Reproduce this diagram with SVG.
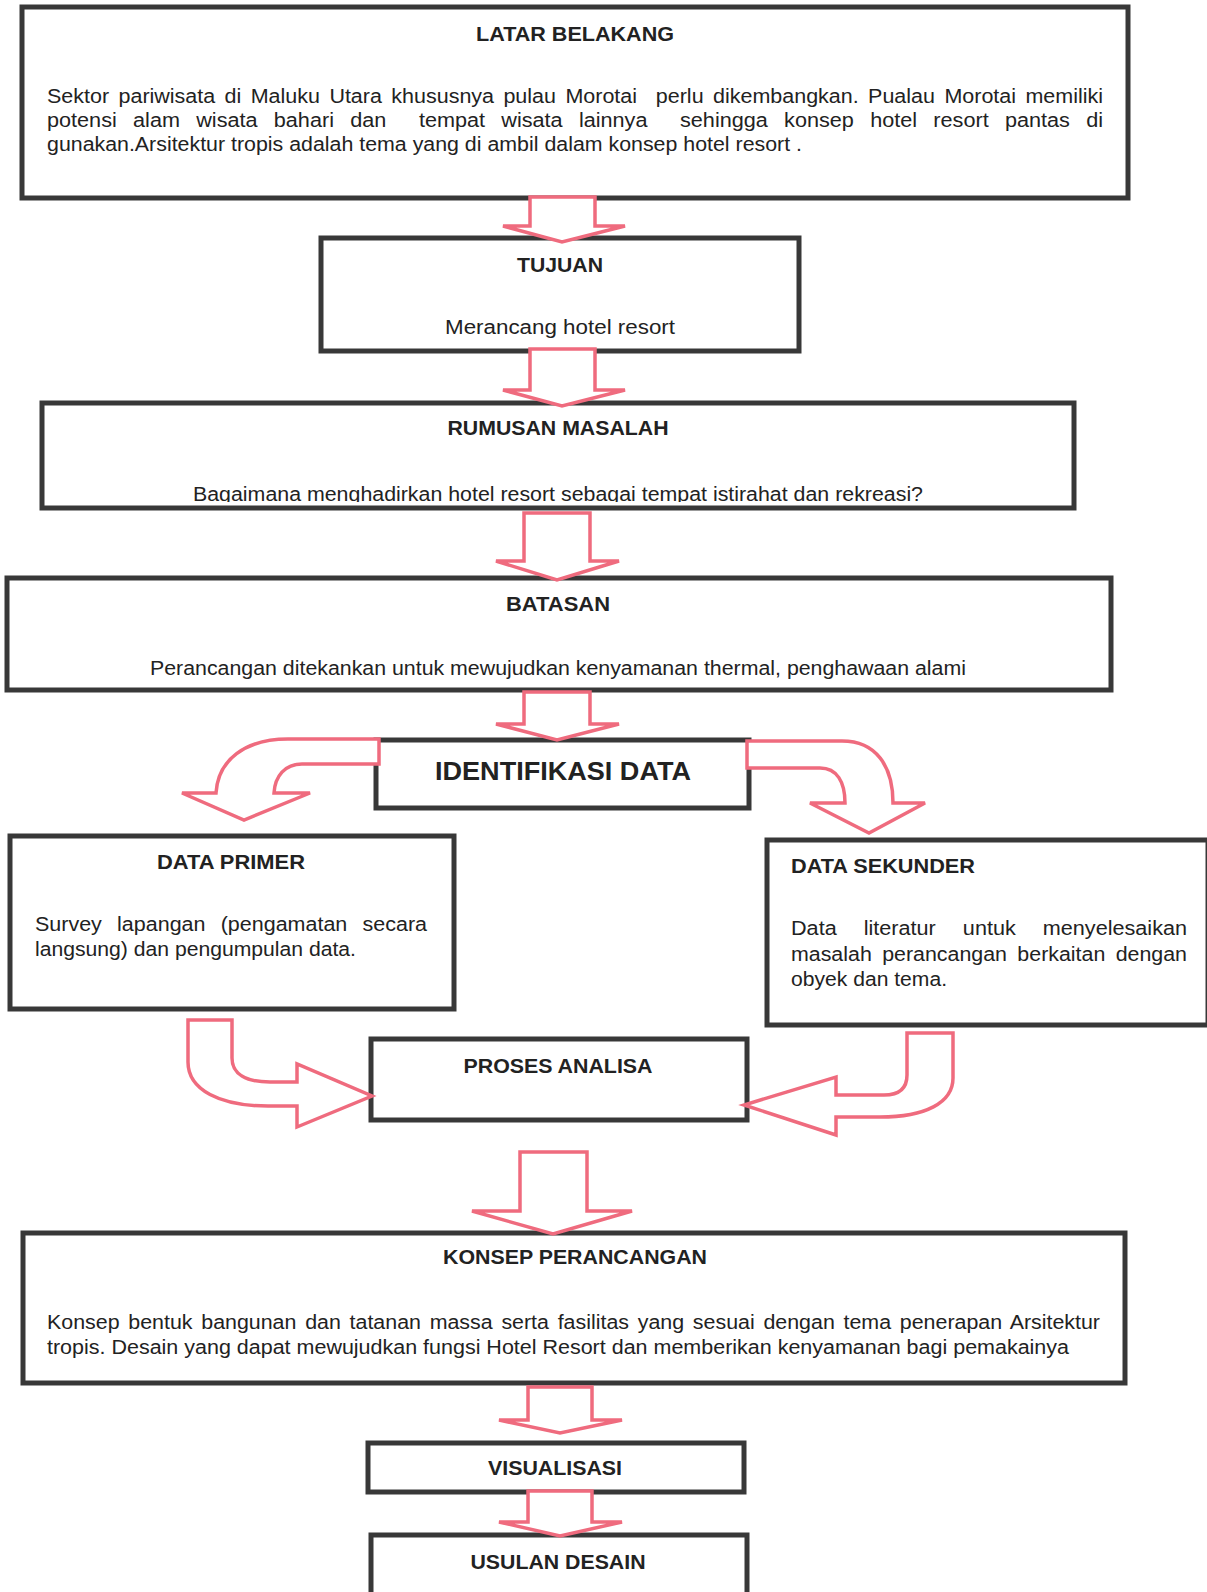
<svg xmlns="http://www.w3.org/2000/svg" width="1207" height="1592" viewBox="0 0 1207 1592">
<style>
.box{fill:#fff;stroke:#383838;stroke-width:5}
.arr{fill:#fff;stroke:#ef6b7e;stroke-width:3.5;stroke-linejoin:miter}
.t{font-family:"Liberation Sans",Arial,sans-serif;font-size:20px;fill:#222}
.b{font-weight:bold}
</style>
<defs>
<clipPath id="clipRum"><rect x="42" y="403" width="1032" height="99"/></clipPath>
</defs>
<rect width="1207" height="1592" fill="#fff"/>

<g id="latar-belakang">
<rect class="box" x="22" y="7" width="1106" height="191"/>
<text class="t b" x="575" y="41" text-anchor="middle" textLength="198" lengthAdjust="spacingAndGlyphs">LATAR BELAKANG</text>
<text class="t" x="47" y="103" xml:space="preserve" style="word-spacing:3.2px" textLength="1056" lengthAdjust="spacingAndGlyphs">Sektor pariwisata di Maluku Utara khususnya pulau Morotai  perlu dikembangkan. Pualau Morotai memiliki</text>
<text class="t" x="47" y="127" xml:space="preserve" style="word-spacing:9.5px" textLength="1056" lengthAdjust="spacingAndGlyphs">potensi alam wisata bahari dan  tempat wisata lainnya  sehingga konsep hotel resort pantas di</text>
<text class="t" x="47" y="151" textLength="755" lengthAdjust="spacingAndGlyphs">gunakan.Arsitektur tropis adalah tema yang di ambil dalam konsep hotel resort .</text>
</g>

<g id="tujuan">
<rect class="box" x="321" y="238" width="478" height="113"/>
<text class="t b" x="560" y="272" text-anchor="middle" textLength="86" lengthAdjust="spacingAndGlyphs">TUJUAN</text>
<text class="t" x="560" y="334" text-anchor="middle" textLength="230" lengthAdjust="spacingAndGlyphs">Merancang hotel resort</text>
</g>

<g id="rumusan-masalah">
<rect class="box" x="42" y="403" width="1032" height="105"/>
<text class="t b" x="558" y="435" text-anchor="middle" textLength="221" lengthAdjust="spacingAndGlyphs">RUMUSAN MASALAH</text>
<text class="t" x="558" y="501" text-anchor="middle" clip-path="url(#clipRum)" textLength="730" lengthAdjust="spacingAndGlyphs">Bagaimana menghadirkan hotel resort sebagai tempat istirahat dan rekreasi?</text>
</g>

<g id="batasan">
<rect class="box" x="7" y="578" width="1104" height="112"/>
<text class="t b" x="558" y="611" text-anchor="middle" textLength="104" lengthAdjust="spacingAndGlyphs">BATASAN</text>
<text class="t" x="558" y="675" text-anchor="middle" textLength="816" lengthAdjust="spacingAndGlyphs">Perancangan ditekankan untuk mewujudkan kenyamanan thermal, penghawaan alami</text>
</g>

<g id="identifikasi-data">
<rect class="box" x="376" y="740" width="373" height="68"/>
<text class="t b" x="563" y="780" text-anchor="middle" style="font-size:25px" textLength="256" lengthAdjust="spacingAndGlyphs">IDENTIFIKASI DATA</text>
</g>

<g id="data-primer">
<rect class="box" x="10" y="836" width="444" height="173"/>
<text class="t b" x="231" y="869" text-anchor="middle" textLength="148" lengthAdjust="spacingAndGlyphs">DATA PRIMER</text>
<text class="t" x="35" y="931" style="word-spacing:8.6px" textLength="392" lengthAdjust="spacingAndGlyphs">Survey lapangan (pengamatan secara</text>
<text class="t" x="35" y="956" textLength="321" lengthAdjust="spacingAndGlyphs">langsung) dan pengumpulan data.</text>
</g>

<g id="data-sekunder">
<rect class="box" x="767" y="840" width="441" height="185"/>
<text class="t b" x="791" y="873" textLength="184" lengthAdjust="spacingAndGlyphs">DATA SEKUNDER</text>
<text class="t" x="791" y="935" style="word-spacing:19.5px" textLength="396" lengthAdjust="spacingAndGlyphs">Data literatur untuk menyelesaikan</text>
<text class="t" x="791" y="961" style="word-spacing:4.2px" textLength="396" lengthAdjust="spacingAndGlyphs">masalah perancangan berkaitan dengan</text>
<text class="t" x="791" y="986" textLength="156" lengthAdjust="spacingAndGlyphs">obyek dan tema.</text>
</g>

<g id="proses-analisa">
<rect class="box" x="371" y="1039" width="376" height="81"/>
<text class="t b" x="558" y="1073" text-anchor="middle" textLength="189" lengthAdjust="spacingAndGlyphs">PROSES ANALISA</text>
</g>

<g id="konsep-perancangan">
<rect class="box" x="23" y="1233" width="1102" height="150"/>
<text class="t b" x="575" y="1264" text-anchor="middle" textLength="264" lengthAdjust="spacingAndGlyphs">KONSEP PERANCANGAN</text>
<text class="t" x="47" y="1329" style="word-spacing:2.6px" textLength="1053" lengthAdjust="spacingAndGlyphs">Konsep bentuk bangunan dan tatanan massa serta fasilitas yang sesuai dengan tema penerapan Arsitektur</text>
<text class="t" x="47" y="1354" textLength="1022" lengthAdjust="spacingAndGlyphs">tropis. Desain yang dapat mewujudkan fungsi Hotel Resort dan memberikan kenyamanan bagi pemakainya</text>
</g>

<g id="visualisasi">
<rect class="box" x="368" y="1443" width="376" height="49"/>
<text class="t b" x="555" y="1475" text-anchor="middle" textLength="134" lengthAdjust="spacingAndGlyphs">VISUALISASI</text>
</g>

<g id="usulan-desain">
<rect class="box" x="371" y="1535" width="376" height="80"/>
<text class="t b" x="558" y="1569" text-anchor="middle" textLength="175" lengthAdjust="spacingAndGlyphs">USULAN DESAIN</text>
</g>

<g id="connectors">
<path class="arr" d="M530 197 L595 197 L595 226 L625 226 L562 242 L503 226 L530 226 Z"/>
<path class="arr" d="M530 349 L595 349 L595 390 L625 390 L562 406 L503 390 L530 390 Z"/>
<path class="arr" d="M524 513 L590 513 L590 561 L619 561 L557 580 L496 561 L524 561 Z"/>
<path class="arr" d="M524 692 L590 692 L590 724 L619 724 L557 740 L496 724 L524 724 Z"/>
<path class="arr" d="M379 739 L288 739 C245 739 218 760 216 793 L182 793 L244 820 L310 793 L274 793 C275 776 285 764 302 764 L379 764 Z"/>
<path class="arr" d="M747 741 L842 741 C876 741 893 766 893 803 L925 803 L869 833 L810 803 L845 803 C845 782 837 768 820 768 L747 768 Z"/>
<path class="arr" d="M188 1020 L232 1020 L232 1058 C232 1074 246 1082 270 1082 L297 1082 L297 1064 L372 1096 L297 1127 L297 1106 L268 1106 C220 1106 188 1090 188 1062 Z"/>
<path class="arr" d="M907 1033 L953 1033 L953 1078 C953 1103 925 1117 880 1117 L836 1117 L836 1135 L744 1105 L836 1077 L836 1095 L884 1095 C900 1095 907 1088 907 1075 Z"/>
<path class="arr" d="M520 1152 L587 1152 L587 1211 L632 1211 L553 1234 L472 1211 L520 1211 Z"/>
<path class="arr" d="M528 1387 L592 1387 L592 1420 L622 1420 L560 1433 L499 1420 L528 1420 Z"/>
<path class="arr" d="M528 1491 L592 1491 L592 1522 L622 1522 L560 1536 L499 1522 L528 1522 Z"/>
</g>
</svg>
